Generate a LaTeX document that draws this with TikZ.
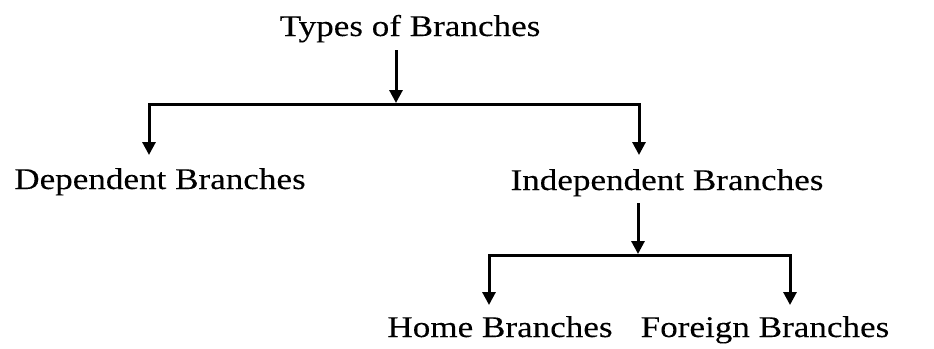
\documentclass[tikz,border=0pt]{standalone}
\usepackage{fontspec}
\setmainfont{Liberation Serif}[FakeStretch=1.17,FakeBold=0.12]
\usetikzlibrary{arrows.meta}
\begin{document}
\begin{tikzpicture}[x=1pt,y=-1pt,
  lbl/.style={inner sep=0pt, anchor=base, font=\fontsize{30}{36}\selectfont},
  conn/.style={line width=3pt, line join=miter},
  arr/.style={conn, -{Triangle[width=13pt,length=13pt]}}]
\useasboundingbox (0,0) rectangle (934,348);
% text
\node[lbl] (types) at (410,36) {Types of Branches};
\node[lbl] (dep) at (160,189) {Dependent Branches};
\node[lbl] (indep) at (667,190) {Independent Branches};
\node[lbl] (home) at (500,337) {Home Branches};
\node[lbl] (foreign) at (765,337) {Foreign Branches};
% first level
\coordinate (t1) at (396,50);
\coordinate (j1) at (396,104);
\coordinate (j1top) at (396,103);
\coordinate (d1) at (149,155);
\coordinate (d2) at (639,155);
\draw[arr] (t1) -- (j1top);
\draw[arr] (j1) -| (d1);
\draw[arr] (j1) -| (d2);
% second level
\coordinate (t2) at (638,203);
\coordinate (j2) at (638,255);
\coordinate (j2top) at (638,254);
\coordinate (d3) at (489,305);
\coordinate (d4) at (790,305);
\draw[arr] (t2) -- (j2top);
\draw[arr] (j2) -| (d3);
\draw[arr] (j2) -| (d4);
\end{tikzpicture}
\end{document}
